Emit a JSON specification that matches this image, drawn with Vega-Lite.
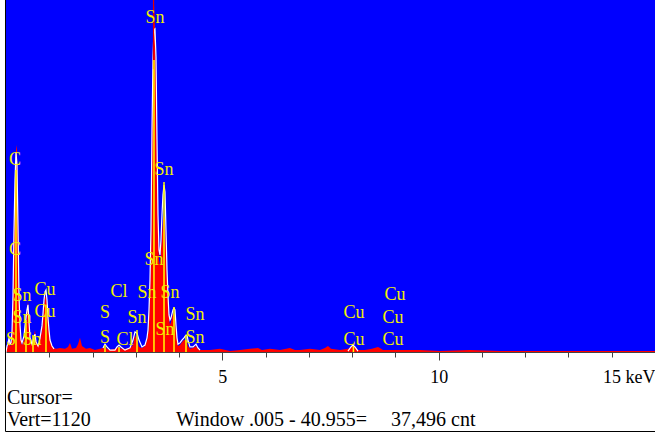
{
  "$schema": "https://vega.github.io/schema/vega-lite/v6.json",
  "width": 649,
  "height": 352,
  "autosize": {"type": "none"},
  "padding": {"left": 6, "top": 0, "right": 0, "bottom": 81},
  "background": "white",
  "config": {"view": {"fill": "#0000ff", "stroke": null}, "font": "Liberation Serif, Times New Roman, DejaVu Serif, serif"},
  "datasets": {
    "spectrum": [
      {"e":0,"r":0,"w":0},{"e":0.023,"r":13,"w":19},{"e":0.046,"r":22,"w":25},{"e":0.069,"r":38,"w":45},{"e":0.092,"r":19,"w":25},{"e":0.116,"r":22,"w":29},{"e":0.139,"r":54,"w":64},{"e":0.162,"r":165,"w":181},{"e":0.185,"r":366,"w":388},{"e":0.208,"r":531,"w":547},{"e":0.231,"r":643,"w":636},{"e":0.254,"r":659,"w":595},{"e":0.277,"r":388,"w":404},{"e":0.300,"r":165,"w":181},{"e":0.324,"r":70,"w":86},{"e":0.347,"r":32,"w":38},{"e":0.370,"r":22,"w":29},{"e":0.416,"r":38,"w":51},{"e":0.439,"r":70,"w":83},{"e":0.462,"r":86,"w":108},{"e":0.485,"r":118,"w":134},{"e":0.508,"r":165,"w":150},{"e":0.532,"r":102,"w":95},{"e":0.555,"r":38,"w":45},{"e":0.601,"r":22,"w":25},{"e":0.647,"r":54,"w":45},{"e":0.670,"r":70,"w":57},{"e":0.693,"r":38,"w":32},{"e":0.740,"r":19,"w":19},{"e":0.786,"r":38,"w":45},{"e":0.832,"r":70,"w":83},{"e":0.855,"r":108,"w":121},{"e":0.878,"r":150,"w":165},{"e":0.901,"r":172,"w":191},{"e":0.924,"r":178,"w":197},{"e":0.948,"r":150,"w":165},{"e":0.971,"r":102,"w":108},{"e":0.994,"r":64,"w":70},{"e":1.017,"r":38,"w":38},{"e":1.063,"r":19,"w":19},{"e":1.109,"r":13,"w":10},{"e":1.156,"r":10,"w":6},{"e":1.248,"r":13,"w":6},{"e":1.364,"r":10,"w":6},{"e":1.433,"r":16,"w":6},{"e":1.479,"r":29,"w":6},{"e":1.525,"r":10,"w":6},{"e":1.618,"r":13,"w":6},{"e":1.664,"r":25,"w":6},{"e":1.710,"r":45,"w":6},{"e":1.756,"r":19,"w":6},{"e":1.849,"r":10,"w":6},{"e":1.941,"r":13,"w":6},{"e":2.057,"r":6,"w":6},{"e":2.172,"r":10,"w":6},{"e":2.242,"r":13,"w":13},{"e":2.288,"r":16,"w":25},{"e":2.334,"r":10,"w":16},{"e":2.404,"r":6,"w":6},{"e":2.519,"r":10,"w":6},{"e":2.565,"r":13,"w":16},{"e":2.612,"r":16,"w":22},{"e":2.658,"r":10,"w":16},{"e":2.750,"r":10,"w":6},{"e":2.866,"r":13,"w":13},{"e":2.935,"r":22,"w":38},{"e":2.981,"r":54,"w":64},{"e":3.028,"r":38,"w":60},{"e":3.074,"r":16,"w":38},{"e":3.143,"r":13,"w":16},{"e":3.212,"r":19,"w":22},{"e":3.259,"r":38,"w":45},{"e":3.282,"r":54,"w":70},{"e":3.305,"r":102,"w":134},{"e":3.328,"r":197,"w":229},{"e":3.351,"r":325,"w":388},{"e":3.374,"r":643,"w":706},{"e":3.397,"r":993,"w":929},{"e":3.420,"r":1111,"w":1025},{"e":3.443,"r":1025,"w":1028},{"e":3.467,"r":865,"w":939},{"e":3.490,"r":611,"w":675},{"e":3.513,"r":388,"w":436},{"e":3.536,"r":293,"w":325},{"e":3.559,"r":277,"w":309},{"e":3.582,"r":325,"w":356},{"e":3.605,"r":372,"w":436},{"e":3.628,"r":420,"w":500},{"e":3.652,"r":436,"w":531},{"e":3.675,"r":420,"w":509},{"e":3.698,"r":325,"w":388},{"e":3.721,"r":229,"w":261},{"e":3.744,"r":165,"w":181},{"e":3.767,"r":108,"w":118},{"e":3.790,"r":86,"w":102},{"e":3.813,"r":95,"w":108},{"e":3.836,"r":108,"w":121},{"e":3.859,"r":121,"w":134},{"e":3.883,"r":124,"w":140},{"e":3.906,"r":108,"w":134},{"e":3.929,"r":70,"w":86},{"e":3.952,"r":38,"w":45},{"e":3.975,"r":19,"w":25},{"e":4.021,"r":22,"w":29},{"e":4.067,"r":32,"w":38},{"e":4.113,"r":38,"w":45},{"e":4.160,"r":38,"w":54},{"e":4.183,"r":32,"w":54},{"e":4.206,"r":19,"w":38},{"e":4.252,"r":10,"w":16},{"e":4.322,"r":13,"w":16},{"e":4.391,"r":19,"w":25},{"e":4.437,"r":10,"w":13},{"e":4.484,"r":6,"w":6},{"e":4.715,"r":6,"w":3},{"e":4.946,"r":10,"w":6},{"e":5.177,"r":3,"w":3},{"e":5.408,"r":6,"w":3},{"e":5.639,"r":10,"w":3},{"e":5.824,"r":13,"w":6},{"e":5.916,"r":6,"w":3},{"e":6.101,"r":10,"w":3},{"e":6.332,"r":6,"w":3},{"e":6.563,"r":13,"w":6},{"e":6.679,"r":6,"w":3},{"e":6.795,"r":6,"w":3},{"e":7.026,"r":10,"w":3},{"e":7.257,"r":6,"w":3},{"e":7.372,"r":13,"w":6},{"e":7.442,"r":19,"w":6},{"e":7.511,"r":10,"w":3},{"e":7.719,"r":6,"w":3},{"e":7.904,"r":10,"w":3},{"e":7.973,"r":16,"w":16},{"e":8.019,"r":19,"w":22},{"e":8.066,"r":16,"w":16},{"e":8.135,"r":6,"w":3},{"e":8.297,"r":6,"w":3},{"e":8.459,"r":10,"w":3},{"e":8.597,"r":16,"w":6},{"e":8.643,"r":13,"w":6},{"e":8.713,"r":6,"w":3},{"e":8.875,"r":6,"w":3},{"e":9.106,"r":6,"w":3},{"e":9.568,"r":6,"w":3},{"e":10.030,"r":3,"w":3},{"e":10.723,"r":6,"w":3},{"e":11.417,"r":3,"w":3},{"e":12.341,"r":3,"w":3},{"e":13.266,"r":3,"w":0},{"e":14.190,"r":3,"w":0},{"e":15.0,"r":3,"w":0}
    ],
    "markers": [
      {"e":0.231,"top":579},{"e":0.462,"top":102},{"e":0.624,"top":54},{"e":0.924,"top":150},{"e":2.288,"top":22},{"e":2.612,"top":16},{"e":3.028,"top":70},{"e":3.420,"top":929},{"e":3.652,"top":541},{"e":3.883,"top":143},{"e":4.160,"top":54},{"e":8.030,"top":19}
    ],
    "cursor": [
      {"e":3.410,"lo":900,"hi":1120}
    ],
    "labels": [
      {"e":3.443,"c":1063,"t":"Sn"},{"e":0.208,"c":611,"t":"C"},{"e":3.652,"c":579,"t":"Sn"},{"e":0.208,"c":325,"t":"C"},{"e":3.420,"c":293,"t":"Sn"},{"e":2.611,"c":191,"t":"Cl"},{"e":3.259,"c":188,"t":"Sn"},{"e":3.790,"c":188,"t":"Sn"},{"e":0.370,"c":178,"t":"Sn"},{"e":0.901,"c":197,"t":"Cu"},{"e":0.370,"c":108,"t":"Sn"},{"e":0.901,"c":127,"t":"Cu"},{"e":2.288,"c":124,"t":"S"},{"e":3.028,"c":108,"t":"Sn"},{"e":3.675,"c":70,"t":"Sn"},{"e":4.368,"c":118,"t":"Sn"},{"e":4.368,"c":45,"t":"Sn"},{"e":0.116,"c":38,"t":"S"},{"e":0.601,"c":38,"t":"Sn"},{"e":2.288,"c":45,"t":"S"},{"e":2.750,"c":38,"t":"Cl"},{"e":8.043,"c":124,"t":"Cu"},{"e":8.043,"c":38,"t":"Cu"},{"e":8.990,"c":181,"t":"Cu"},{"e":8.944,"c":108,"t":"Cu"},{"e":8.944,"c":38,"t":"Cu"}
    ],
    "footer": [
      {"e":0.023,"c":-146,"t":"Cursor="},{"e":0.023,"c":-216,"t":"Vert=1120"},{"e":3.93,"c":-216,"t":"Window .005 - 40.955="},{"e":8.90,"c":-216,"t":"37,496 cnt"}
    ],
    "frame": [
      {"x0":-0.0116,"x1":-0.0116,"y0":-253,"y1":1120},
      {"x0":-0.0116,"x1":15,"y0":-253,"y1":-253}
    ]
  },
  "layer": [
    {
      "data": {"name": "spectrum"},
      "mark": {"type": "area", "color": "#ff0000", "interpolate": "linear"},
      "encoding": {
        "x": {"field": "e", "type": "quantitative", "scale": {"domain": [0, 15], "nice": false, "zero": false},
          "axis": {"values": [1,2,3,4,5,6,7,8,9,10,11,12,13,14,15], "title": null, "grid": false,
            "labelExpr": "datum.value == 15 ? '15 keV' : (datum.value % 5 == 0 ? datum.label : '')",
            "labelAlign": {"condition": {"test": "datum.value == 15", "value": "right"}, "value": "center"},
            "tickSize": {"condition": {"test": "datum.value % 5 == 0", "value": 8}, "value": 5},
            "domainColor": "#444444", "tickColor": "#444444", "labelColor": "black", "labelFontSize": 18,
            "labelFont": "Liberation Serif, Times New Roman, DejaVu Serif, serif", "labelPadding": 8, "labelFlush": false, "labelOverlap": false, "labelBound": false}},
        "y": {"field": "r", "type": "quantitative", "scale": {"domain": [0, 1120], "nice": false}, "axis": null}
      }
    },
    {
      "data": {"name": "spectrum"},
      "transform": [{"filter": "datum.e <= 1.11"}],
      "mark": {"type": "line", "color": "#ffffff", "strokeWidth": 1.2, "interpolate": "linear"},
      "encoding": {
        "x": {"field": "e", "type": "quantitative"},
        "y": {"field": "w", "type": "quantitative", "axis": null}
      }
    },
    {
      "data": {"name": "spectrum"},
      "transform": [{"filter": "datum.e >= 2.2 && datum.e <= 4.49"}],
      "mark": {"type": "line", "color": "#ffffff", "strokeWidth": 1.2, "interpolate": "linear"},
      "encoding": {
        "x": {"field": "e", "type": "quantitative"},
        "y": {"field": "w", "type": "quantitative", "axis": null}
      }
    },
    {
      "data": {"name": "spectrum"},
      "transform": [{"filter": "datum.e >= 7.9 && datum.e <= 8.14"}],
      "mark": {"type": "line", "color": "#ffffff", "strokeWidth": 1.2, "interpolate": "linear"},
      "encoding": {
        "x": {"field": "e", "type": "quantitative"},
        "y": {"field": "w", "type": "quantitative", "axis": null}
      }
    },
    {
      "data": {"name": "cursor"},
      "mark": {"type": "rule", "color": "#e00000", "strokeWidth": 1.2},
      "encoding": {
        "x": {"field": "e", "type": "quantitative"},
        "y": {"field": "lo", "type": "quantitative", "axis": null},
        "y2": {"field": "hi"}
      }
    },
    {
      "data": {"name": "markers"},
      "mark": {"type": "rule", "color": "#ffff00", "strokeWidth": 1.5},
      "encoding": {
        "x": {"field": "e", "type": "quantitative"},
        "y": {"field": "top", "type": "quantitative", "axis": null},
        "y2": {"datum": 0}
      }
    },
    {
      "data": {"name": "labels"},
      "mark": {"type": "text", "color": "#f0f000", "fontSize": 18, "align": "center", "baseline": "middle"},
      "encoding": {
        "x": {"field": "e", "type": "quantitative"},
        "y": {"field": "c", "type": "quantitative", "axis": null},
        "text": {"field": "t"}
      }
    },
    {
      "data": {"name": "footer"},
      "mark": {"type": "text", "color": "black", "fontSize": 20, "align": "left", "baseline": "middle"},
      "encoding": {
        "x": {"field": "e", "type": "quantitative"},
        "y": {"field": "c", "type": "quantitative", "axis": null},
        "text": {"field": "t"}
      }
    },
    {
      "data": {"name": "frame"},
      "mark": {"type": "rule", "color": "black", "strokeWidth": 1},
      "encoding": {
        "x": {"field": "x0", "type": "quantitative"},
        "x2": {"field": "x1"},
        "y": {"field": "y0", "type": "quantitative", "axis": null},
        "y2": {"field": "y1"}
      }
    }
  ]
}
